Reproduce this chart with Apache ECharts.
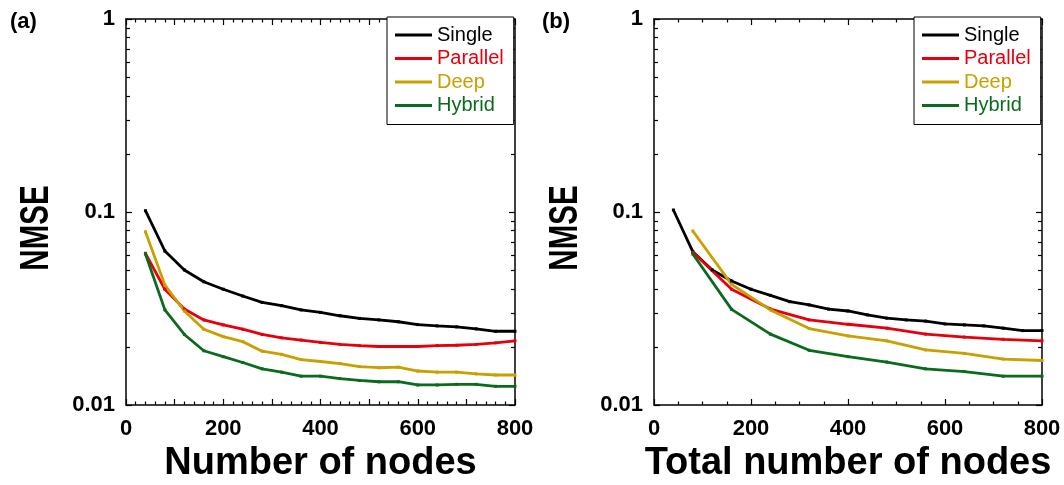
<!DOCTYPE html>
<html>
<head>
<meta charset="utf-8">
<script src="https://cdn.jsdelivr.net/npm/echarts@6/dist/echarts.min.js"></script>
<style>
html,body{margin:0;padding:0;background:#fff;}
#chart{width:1064px;height:485px;}
</style>
</head>
<body>
<div id="chart"></div>
<script>
// ---- data ----
const seriesNames = ['Single', 'Parallel', 'Deep', 'Hybrid'];
const seriesColors = ['#000000', '#e6000c', '#c9a000', '#0b6b1d'];

// panel (a): x = number of nodes
const xA = [40, 80, 120, 160, 200, 240, 280, 320, 360, 400, 440, 480, 520, 560, 600, 640, 680, 720, 760, 800];
const singleA   = [0.1016, 0.0628, 0.0501, 0.0435, 0.0398, 0.0367, 0.0340, 0.0327, 0.0311, 0.0302, 0.0290, 0.0281, 0.0276, 0.0270, 0.0261, 0.0257, 0.0254, 0.0248, 0.0241, 0.0241];
const parallelA = [0.0611, 0.0398, 0.0314, 0.0276, 0.0260, 0.0247, 0.0232, 0.0223, 0.0217, 0.0211, 0.0206, 0.0203, 0.0201, 0.0201, 0.0201, 0.0203, 0.0204, 0.0206, 0.0210, 0.0215];
const deepA     = [0.0790, 0.0418, 0.0307, 0.0247, 0.0226, 0.0213, 0.0190, 0.0183, 0.0172, 0.0168, 0.0164, 0.0158, 0.0156, 0.0157, 0.0150, 0.0148, 0.0148, 0.0145, 0.0143, 0.0143];
const hybridA   = [0.0606, 0.0311, 0.0232, 0.0191, 0.0178, 0.0166, 0.0154, 0.0148, 0.0141, 0.0141, 0.0137, 0.0134, 0.0132, 0.0132, 0.0127, 0.0127, 0.0128, 0.0128, 0.0125, 0.0125];

// panel (b): x = total number of nodes
const xBSingle = [40, 80, 120, 160, 200, 240, 280, 320, 360, 400, 440, 480, 520, 560, 600, 640, 680, 720, 760, 800];
const singleB   = [0.1024, 0.0623, 0.0501, 0.0439, 0.0398, 0.0370, 0.0343, 0.0330, 0.0314, 0.0307, 0.0293, 0.0282, 0.0276, 0.0272, 0.0263, 0.0260, 0.0257, 0.0250, 0.0243, 0.0243];
const xBMulti  = [80, 160, 240, 320, 400, 480, 560, 640, 720, 800];
const parallelB = [0.0618, 0.0398, 0.0314, 0.0276, 0.0262, 0.0250, 0.0233, 0.0225, 0.0219, 0.0215];
const deepB     = [0.0797, 0.0422, 0.0311, 0.0249, 0.0228, 0.0215, 0.0193, 0.0185, 0.0173, 0.0170];
const hybridB   = [0.0606, 0.0313, 0.0233, 0.0192, 0.0178, 0.0167, 0.0154, 0.0149, 0.0141, 0.0141];

// axis settings
const yMin = 0.01, yMax = 1;
const minorMantissas = [2, 3, 4, 5, 6, 7, 8, 9];
const decades = [0.01, 0.1];
const xLabels = [0, 200, 400, 600, 800];

// ---- build ----
const zip = (xs, ys) => xs.map((x, i) => [x, ys[i]]);
const minorLogTicks = [];
decades.forEach(d => minorMantissas.forEach(m => minorLogTicks.push(Math.log10(m * d))));

const FONT = "'Liberation Sans', Arial, sans-serif";
const grids = [
  { left: 126, top: 19, width: 389, height: 386, containLabel: false, outerBoundsMode: 'none' },
  { left: 654, top: 19, width: 388, height: 386, containLabel: false, outerBoundsMode: 'none' }
];
const tickStyle = { color: '#000', width: 1.2 };

function xAxes(gi, name, interval, minorSplit) {
  const common = { type: 'value', gridIndex: gi, min: 0, max: 800, interval: interval,
    axisLine: { onZero: false, lineStyle: { color: '#000', width: 1.5 } },
    splitLine: { show: false },
    axisTick: { inside: true, length: 6, lineStyle: tickStyle },
    minorTick: { show: true, splitNumber: minorSplit, length: 3.5, lineStyle: tickStyle } };
  return [
    Object.assign({}, common, {
      position: 'bottom',
      axisLabel: { color: '#000', fontFamily: FONT, fontWeight: 'bold', fontSize: 22, margin: 13,
        formatter: v => (xLabels.indexOf(v) >= 0 ? String(v) : '') },
      name: name, nameLocation: 'middle', nameGap: 38,
      nameTextStyle: { color: '#000', fontFamily: FONT, fontWeight: 'bold', fontSize: 38 }
    }),
    Object.assign({}, common, { position: 'top', axisLabel: { show: false } })
  ];
}

function yAxes(gi) {
  const logCommon = { type: 'log', logBase: 10, gridIndex: gi, min: yMin, max: yMax,
    axisLine: { onZero: false, lineStyle: { color: '#000', width: 1.5 } }, splitLine: { show: false },
    axisTick: { inside: true, length: 6, lineStyle: tickStyle } };
  const minorCommon = { type: 'value', gridIndex: gi, min: -2, max: 0,
    axisLine: { show: false, onZero: false }, splitLine: { show: false }, axisLabel: { show: false },
    axisTick: { inside: true, length: 4, customValues: minorLogTicks, lineStyle: tickStyle } };
  return [
    Object.assign({}, logCommon, { position: 'left',
      axisLabel: { color: '#000', fontFamily: FONT, fontWeight: 'bold', fontSize: 22, margin: 11 } }),
    Object.assign({}, logCommon, { position: 'right', axisLabel: { show: false } }),
    Object.assign({}, minorCommon, { position: 'left' }),
    Object.assign({}, minorCommon, { position: 'right' })
  ];
}

function lineSeries(name, idx, xi, yi, data) {
  return { type: 'line', name: name, xAxisIndex: xi, yAxisIndex: yi, data: data,
    symbol: 'rect', symbolSize: 3, showSymbol: true,
    lineStyle: { color: seriesColors[idx], width: 2.8 },
    itemStyle: { color: seriesColors[idx] }, animation: false };
}

function legend(left) {
  return { left: left, top: 17, orient: 'vertical', icon: 'rect', itemWidth: 37, itemHeight: 3,
    itemGap: 3.5, padding: [8, 10, 9, 8], borderColor: '#000', borderWidth: 1, backgroundColor: '#fff',
    selectedMode: false,
    textStyle: { fontFamily: FONT, fontSize: 20 },
    data: seriesNames.map((n, i) => ({ name: n, textStyle: { color: seriesColors[i] } })) };
}

function yTitle(cx) {
  return { type: 'text', x: cx, y: 228, rotation: Math.PI / 2, scaleX: 0.72, scaleY: 1,
    style: { text: 'NMSE', font: "bold 41px 'Liberation Sans', Arial, sans-serif", fill: '#000',
      align: 'center', verticalAlign: 'middle' } };
}

const option = {
  animation: false,
  backgroundColor: '#fff',
  title: [
    { text: '(a)', left: 5, top: 6, textStyle: { fontFamily: FONT, fontWeight: 'bold', fontSize: 22, color: '#000' } },
    { text: '(b)', left: 537, top: 6, textStyle: { fontFamily: FONT, fontWeight: 'bold', fontSize: 22, color: '#000' } }
  ],
  graphic: [yTitle(37), yTitle(566)],
  grid: grids,
  xAxis: [].concat(xAxes(0, 'Number of nodes', 100, 5), xAxes(1, 'Total number of nodes', 200, 4)),
  yAxis: [].concat(yAxes(0), yAxes(1)),
  legend: [legend(387), legend(914)],
  series: [
    lineSeries('Single', 0, 0, 0, zip(xA, singleA)),
    lineSeries('Parallel', 1, 0, 0, zip(xA, parallelA)),
    lineSeries('Deep', 2, 0, 0, zip(xA, deepA)),
    lineSeries('Hybrid', 3, 0, 0, zip(xA, hybridA)),
    lineSeries('Single', 0, 2, 4, zip(xBSingle, singleB)),
    lineSeries('Parallel', 1, 2, 4, zip(xBMulti, parallelB)),
    lineSeries('Deep', 2, 2, 4, zip(xBMulti, deepB)),
    lineSeries('Hybrid', 3, 2, 4, zip(xBMulti, hybridB))
  ]
};

const chart = echarts.init(document.getElementById('chart'), null, { renderer: 'canvas' });
chart.setOption(option);
</script>
</body>
</html>
